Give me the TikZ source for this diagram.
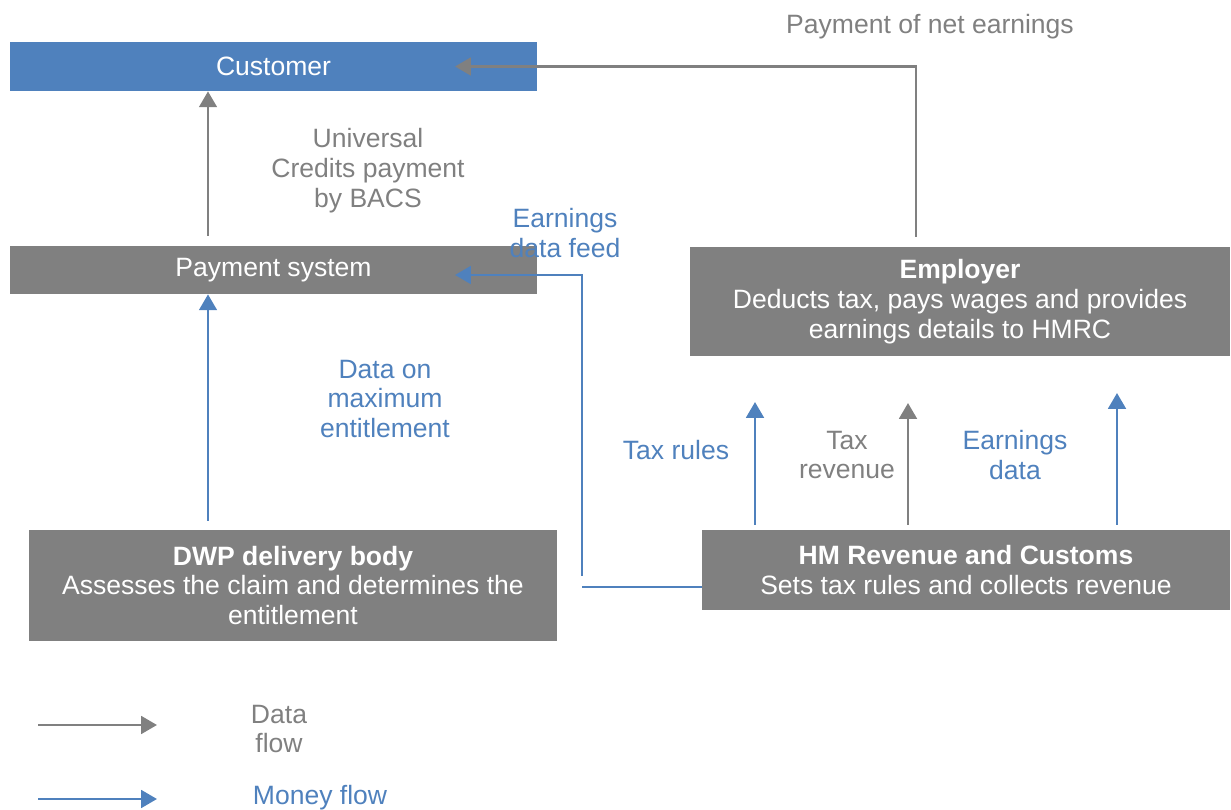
\documentclass[tikz,border=0pt]{standalone}
\usepackage{fontspec}
\setmainfont{Liberation Sans}
\usetikzlibrary{arrows.meta}

\definecolor{ukblue}{RGB}{79,129,189}
\definecolor{ukgrey}{RGB}{128,128,128}

\begin{document}
\begin{tikzpicture}[x=0.02cm, y=-0.02cm,
    every node/.style={font=\fontsize{15.1}{17}\selectfont, align=center},
    box/.style={rectangle, fill=ukgrey, text=white, inner sep=0pt},
    dataflow/.style={draw=ukgrey, line width=1.6pt, -{Triangle[width=10pt,length=9pt]}},
    moneyflow/.style={draw=ukblue, line width=1.6pt, -{Triangle[width=10pt,length=9pt]}},
    moneyline/.style={draw=ukblue, line width=1.6pt},
    greylabel/.style={text=ukgrey},
    bluelabel/.style={text=ukblue}]
  \useasboundingbox (0,0) rectangle (1231,810);

  % Boxes
  \node[box, fill=ukblue, minimum width=10.54cm, minimum height=0.98cm] (cust) at (273.5,66.5) {Customer};
  \node[box, minimum width=10.54cm, minimum height=0.96cm] (pay) at (273.5,270) {Payment system};
  \node[box, minimum width=10.8cm, minimum height=2.18cm] (emp) at (960,301.5)
    {\textbf{Employer}\\Deducts tax, pays wages and provides\\earnings details to HMRC};
  \node[box, minimum width=10.56cm, minimum height=2.22cm] (dwp) at (293,585.5)
    {\textbf{DWP delivery body}\\Assesses the claim and determines the\\entitlement};
  \node[box, minimum width=10.56cm, minimum height=1.6cm] (hmrc) at (966,570)
    {\textbf{HM Revenue and Customs}\\Sets tax rules and collects revenue};

  % Free ends of the connectors
  \coordinate (bacs) at (208,236);
  \coordinate (wage) at (916,237);
  \coordinate (ent) at (208,521);
  \coordinate (feedA) at (582,576);
  \coordinate (feedB) at (582,587);
  \coordinate (tipin) at (455,0);
  \coordinate (rules) at (755,525);
  \coordinate (rev) at (908,525);
  \coordinate (earn) at (1117,525);

  % Payments to the customer
  \draw[dataflow] (bacs) -- (bacs |- cust.south);
  \draw[dataflow] (wage) |- (tipin |- cust.center);

  % DWP to payment system
  \draw[moneyflow] (ent) -- (ent |- pay.south);

  % HMRC earnings feed to payment system
  \draw[moneyline] (hmrc.west |- feedB) -- (feedB);
  \draw[moneyflow] (feedA) |- (tipin |- 0,275);

  % HMRC to employer
  \draw[moneyflow] (rules) -- (755,402);
  \draw[dataflow] (rev) -- (908,403);
  \draw[moneyflow] (earn) -- (1117,393);

  % Labels
  \node[greylabel] (lnet) at (930,27) {Payment of net earnings};
  \node[greylabel] (luc) at (368,171) {Universal\\Credits payment\\by BACS};
  \node[bluelabel] (lfeed) at (565,233) {Earnings\\data feed};
  \node[bluelabel] (lmax) at (385,399) {Data on\\maximum\\entitlement};
  \node[bluelabel] (lrules) at (676,450) {Tax rules};
  \node[greylabel] (lrev) at (847,455) {Tax\\revenue};
  \node[bluelabel] (learn) at (1015,455) {Earnings\\data};

  % Legend
  \coordinate (keyA) at (38,725);
  \coordinate (keyB) at (157,725);
  \coordinate (keyC) at (38,799);
  \coordinate (keyD) at (157,799);
  \draw[dataflow] (keyA) -- (keyB);
  \draw[moneyflow] (keyC) -- (keyD);
  \node[greylabel] (kdata) at (279,729) {Data\\flow};
  \node[bluelabel] (kmoney) at (320,798) {Money flow};
\end{tikzpicture}
\end{document}
